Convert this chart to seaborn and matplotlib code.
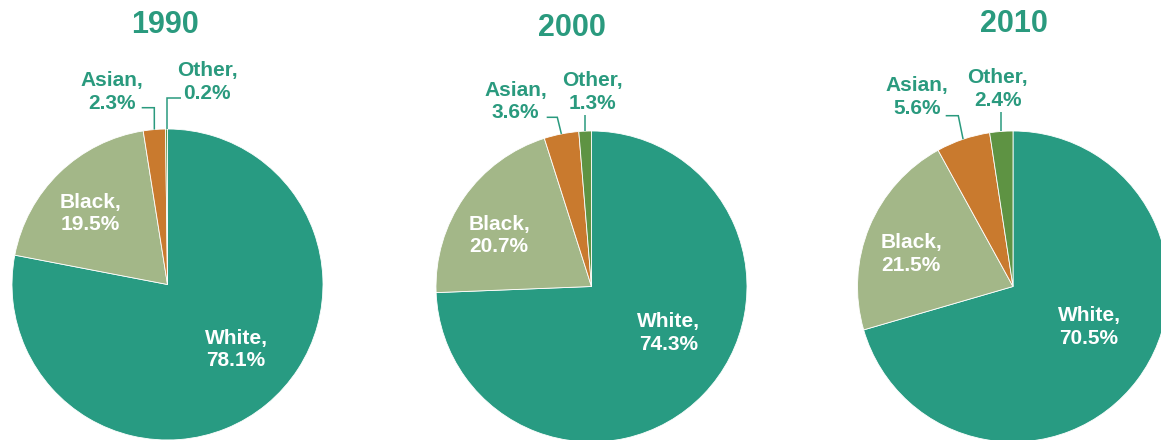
import matplotlib
matplotlib.use("Agg")
import matplotlib.pyplot as plt
import numpy as np
import seaborn as sns

# Population shares by race, census years
years = ["1990", "2000", "2010"]
groups = ["White", "Black", "Asian", "Other"]
share_1990 = [78.1, 19.5, 2.3, 0.2]
share_2000 = [74.3, 20.7, 3.6, 1.3]
share_2010 = [70.5, 21.5, 5.6, 2.4]
shares = [share_1990, share_2000, share_2010]

sns.set_theme(style="white")
plt.rcParams["font.family"] = ["Liberation Sans", "DejaVu Sans"]

palette = sns.color_palette(["#289B82", "#A3B788", "#C97A2E", "#5E9343"])
teal = "#2A9A7E"

W, H = 1161, 440
fig = plt.figure(figsize=(W / 100, H / 100), dpi=100)
ax = fig.add_axes([0, 0, 1, 1])


def fy(y):
    """Convert a top-down pixel row into the axes' bottom-up coordinate."""
    return H - y


# Layout of each pie (pixel units): centre, radius, title anchor
centres = [(167.5, 284.5), (591.5, 286.5), (1013.0, 286.5)]
radius = 155.5
title_pos = [(165, 33.3), (571.5, 36.0), (1013.5, 31.7)]

# Label anchors (block centres, pixel units)
label_pos = [
    {"White": (236, 349.5), "Black": (90.7, 213.5), "Asian": (112, 92), "Other": (207, 82)},
    {"White": (668.3, 333), "Black": (499, 235.5), "Asian": (515.7, 101.5), "Other": (592.7, 92)},
    {"White": (1089, 327), "Black": (911, 254), "Asian": (916.7, 97), "Other": (997.7, 89)},
]
# Leader-line elbows for the small outer slices
asian_elbow = [((141.7, 107.7), (154.3, 107.7)),
               ((546.7, 117.3), (557.3, 117.3)),
               ((945.7, 115.7), (958.3, 115.7))]
other_elbow = [(97.7, 181.0), (115.0, None), (111.7, None)]

for k, (vals, year) in enumerate(zip(shares, years)):
    cx, cy = centres[k]
    wedges, _ = ax.pie(
        vals,
        colors=palette,
        startangle=90,
        counterclock=False,
        center=(cx, fy(cy)),
        radius=radius,
        wedgeprops=dict(edgecolor="white", linewidth=0.6),
    )
    tx, ty = title_pos[k]
    ax.text(tx, fy(ty), year, ha="center", va="baseline",
            fontsize=22, fontweight="bold", color=teal)

    for g, v, w in zip(groups, vals, wedges):
        lx, ly = label_pos[k][g]
        inside = g in ("White", "Black")
        ax.text(lx, fy(ly), f"{g},\n{v:.1f}%", ha="center", va="center",
                fontsize=15, fontweight="bold", linespacing=1.25,
                color="white" if inside else teal)

    # Leader lines end at the middle of each small slice's rim
    def rim(wedge):
        mid = np.deg2rad((wedge.theta1 + wedge.theta2) / 2)
        return (cx + radius * np.cos(mid), fy(cy) + radius * np.sin(mid))

    ex, ey = rim(wedges[2])
    (ax1, ay1), (ax2, ay2) = asian_elbow[k]
    ax.plot([ax1, ax2, ex], [fy(ay1), fy(ay2), ey], color=teal, lw=1.1,
            solid_capstyle="butt", solid_joinstyle="miter")

    ox, oy = rim(wedges[3])
    top, right = other_elbow[k]
    xs, ys = [ox, ox], [oy, fy(top)]
    if right is not None:
        xs.append(right)
        ys.append(fy(top))
    ax.plot(xs, ys, color=teal, lw=1.1, solid_capstyle="butt",
            solid_joinstyle="miter")

ax.set_xlim(0, W)
ax.set_ylim(0, H)
ax.set_aspect("equal")
ax.axis("off")

fig.savefig("out.png", dpi=100, facecolor="white")
